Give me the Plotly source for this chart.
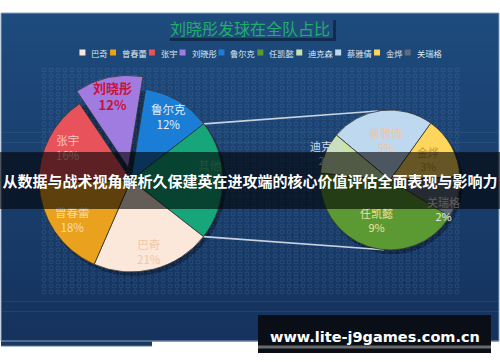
import numpy as np
import plotly.graph_objects as go

# ---------------- data ----------------
TITLE = "刘晓彤发球在全队占比"
BANNER = "从数据与战术视角解析久保建英在进攻端的核心价值评估全面表现与影响力"
WATERMARK = "www.lite-j9games.com.cn"

MAIN_LABELS = ["刘晓彤", "鲁尔克", "其他", "巴奇", "曾春蕾", "张宇"]
MAIN_VALUES = [12, 12, 21, 21, 18, 16]
SEC_LABELS = ["蔡雅倩", "金烨", "关瑞格", "任凯懿", "迪克森"]
SEC_VALUES = [5, 3, 2, 9, 2]
LEGEND_LABELS = ["巴奇", "曾春蕾", "张宇", "刘晓彤", "鲁尔克",
                 "任凯懿", "迪克森", "蔡雅倩", "金烨", "关瑞格"]

# ---------------- style ----------------
COLORS = {
    "巴奇": "#fbe8da", "曾春蕾": "#eaa11e", "张宇": "#e8525a", "刘晓彤": "#a07ce0",
    "鲁尔克": "#1a7ed6", "其他": "#16a67a", "任凯懿": "#5b9a33", "迪克森": "#c9e2aa",
    "蔡雅倩": "#bed8f0", "金烨": "#ffd65c", "关瑞格": "#5f6b7a",
}
TEXT_COLORS = {
    "巴奇": "#f2c6a8", "曾春蕾": "#f7dcb2", "张宇": "#f9c4c0", "刘晓彤": "#cc1038",
    "鲁尔克": "#e6eef8", "其他": "#5cc59c", "任凯懿": "#ebe3a2", "迪克森": "#d0d8e2",
    "蔡雅倩": "#f0c6a0", "金烨": "#c99a3a", "关瑞格": "#e8e8e8",
}
W, H = 500, 362
FONT = "Noto Sans CJK SC"
MAIN_C, MAIN_R, MAIN_ROT, PULL = (131, 180), 92, -34, 0.14
SEC_C, SEC_R, SEC_ROT = (390, 180), 70, -50
MAIN_LABEL_R = [0.8, 0.8, 0.86, 0.8, 0.77, 0.77]
MAIN_LABEL_DA = [0, 0, -6, 0, 0, 0]
SEC_LABEL_R = [0.57, 0.62, 0.86, 0.6, 0.98]
SEC_LABEL_DA = [0, 0, 14, 0, 0]
CONNECT_SEC_ANGLES = (-10, 185)


def slice_angles(values, rot):
    tot = float(sum(values))
    out, a = [], rot
    for v in values:
        b = a + 360.0 * v / tot
        out.append((a, b))
        a = b
    return out


def pt(c, r, ang):
    t = np.deg2rad(ang)
    return c[0] + r * np.sin(t), c[1] - r * np.cos(t)


def domain(c, half):
    return dict(x=[(c[0] - half) / W, (c[0] + half) / W],
                y=[(H - c[1] - half) / H, (H - c[1] + half) / H])


fig = go.Figure()
shapes, annos = [], []

# panel background gradient
top_c, bot_c = np.array([30, 75, 125]), np.array([21, 51, 93])
y_top, y_bot = 13, 341
n = 33
edges = np.linspace(y_top, y_bot, n + 1)
for i in range(n):
    f = i / (n - 1)
    c = (top_c * (1 - f) + bot_c * f).astype(int)
    shapes.append(dict(type="rect", xref="x", yref="y", x0=1, x1=499,
                       y0=edges[i], y1=edges[i + 1] + 0.6, layer="below",
                       line=dict(width=0), fillcolor=f"rgb({c[0]},{c[1]},{c[2]})"))
shapes.append(dict(type="rect", xref="x", yref="y", x0=1, x1=152, y0=340, y1=346,
                   layer="below", line=dict(width=0), fillcolor="#1a3760"))
shapes.append(dict(type="line", xref="x", yref="y", x0=1, x1=152, y0=346, y1=346,
                   layer="below", line=dict(width=1, color="#5a7aa0")))
shapes.append(dict(type="rect", xref="x", yref="y", x0=1, x1=499, y0=13, y1=341,
                   layer="below", line=dict(width=1, color="#8aa3c0")))

# title box
shapes.append(dict(type="rect", xref="x", yref="y", x0=170, x1=336, y0=20, y1=41,
                   layer="below", line=dict(width=0), fillcolor="rgba(5,20,40,0.55)"))
shapes.append(dict(type="rect", xref="x", yref="y", x0=167, x1=333, y0=17, y1=38,
                   layer="below", line=dict(width=0), fillcolor="#1f4a7c"))

# pie shadows
for c, r in ((MAIN_C, MAIN_R), (SEC_C, SEC_R)):
    shapes.append(dict(type="circle", xref="x", yref="y", x0=c[0] - r + 2, x1=c[0] + r + 3,
                       y0=c[1] - r + 3, y1=c[1] + r + 4, layer="below",
                       line=dict(width=0), fillcolor="rgba(5,15,30,0.45)"))

# dot texture
gx, gy = np.meshgrid(np.arange(44, 460, 7), np.arange(70, 293, 6))
fig.add_trace(go.Scatter(x=gx.ravel(), y=gy.ravel(), mode="markers", hoverinfo="skip",
                         marker=dict(symbol="circle-open", size=4,
                                     color="rgba(125,165,215,0.22)", line=dict(width=0.8)),
                         showlegend=False))

# connector lines
main_ang = slice_angles(MAIN_VALUES, MAIN_ROT)
sec_ang = slice_angles(SEC_VALUES, SEC_ROT)
oi = MAIN_LABELS.index("其他")
for a_main, a_sec in ((main_ang[oi][0], CONNECT_SEC_ANGLES[0]),
                      (main_ang[oi][1], CONNECT_SEC_ANGLES[1])):
    p0 = pt(MAIN_C, MAIN_R, a_main)
    p1 = pt(SEC_C, SEC_R, a_sec)
    fig.add_trace(go.Scatter(x=[p0[0], p1[0]], y=[p0[1], p1[1]], mode="lines",
                             line=dict(color="#c9d3e0", width=1.6),
                             hoverinfo="skip", showlegend=False))

# pies
pulls = [PULL if l == "刘晓彤" else 0 for l in MAIN_LABELS]
fig.add_trace(go.Pie(labels=MAIN_LABELS, values=MAIN_VALUES, sort=False,
                     direction="clockwise", rotation=MAIN_ROT, pull=pulls,
                     marker=dict(colors=[COLORS[l] for l in MAIN_LABELS],
                                 line=dict(color="#353535", width=0.8)),
                     textinfo="none", hoverinfo="skip", showlegend=False,
                     domain=domain(MAIN_C, MAIN_R * (1 + PULL))))
fig.add_trace(go.Pie(labels=SEC_LABELS, values=SEC_VALUES, sort=False,
                     direction="clockwise", rotation=SEC_ROT,
                     marker=dict(colors=[COLORS[l] for l in SEC_LABELS],
                                 line=dict(color="#353535", width=0.8)),
                     textinfo="none", hoverinfo="skip", showlegend=False,
                     domain=domain(SEC_C, SEC_R)))

# slice labels
for lab, v, (a0, a1), pl, rr, da in zip(MAIN_LABELS, MAIN_VALUES, main_ang, pulls,
                                         MAIN_LABEL_R, MAIN_LABEL_DA):
    mid = (a0 + a1) / 2
    c = pt(MAIN_C, pl * MAIN_R, mid)
    x, y = pt(c, rr * MAIN_R, mid + da)
    if lab == "刘晓彤":
        txt, fs = f"<b>{lab}<br>{v}%</b>", 13
    else:
        txt, fs = f"{lab}<br>{v}%", 11.5
    annos.append(dict(x=x, y=y, xref="x", yref="y", text=txt, showarrow=False,
                      font=dict(family=FONT, size=fs, color=TEXT_COLORS[lab])))
for lab, v, (a0, a1), rr, da in zip(SEC_LABELS, SEC_VALUES, sec_ang, SEC_LABEL_R, SEC_LABEL_DA):
    mid = (a0 + a1) / 2
    x, y = pt(SEC_C, rr * SEC_R, mid + da)
    annos.append(dict(x=x, y=y, xref="x", yref="y", text=f"{lab}<br>{v}%", showarrow=False,
                      font=dict(family=FONT, size=11, color=TEXT_COLORS[lab])))

# title
annos.append(dict(x=250, y=28, xref="x", yref="y", text=TITLE, showarrow=False,
                  font=dict(family=FONT, size=16, color="#22ad6c")))

# legend
fs_leg, sq, g1, g2 = 8.3, 6, 4, 4
widths = [sq + g1 + fs_leg * len(l) for l in LEGEND_LABELS]
total = sum(widths) + g2 * (len(widths) - 1)
x = 259.5 - total / 2
ly = 52.5
for lab, w in zip(LEGEND_LABELS, widths):
    shapes.append(dict(type="rect", xref="x", yref="y", x0=x, x1=x + sq,
                       y0=ly - sq / 2, y1=ly + sq / 2, layer="below",
                       line=dict(width=0), fillcolor=COLORS[lab]))
    annos.append(dict(x=x + sq + g1, y=ly, xref="x", yref="y", text=lab, showarrow=False,
                      xanchor="left", yanchor="middle",
                      font=dict(family=FONT, size=fs_leg, color="#dfe6ef")))
    x += w + g2

# banner overlay
annos.append(dict(x=250, y=180.5, xref="x", yref="y", text=f"<b>{BANNER}</b>",
                  showarrow=False, width=500, height=57, bgcolor="rgba(0,0,0,0.6)",
                  borderpad=0, borderwidth=0, xanchor="center", yanchor="middle",
                  font=dict(family=FONT, size=15, color="#ffffff")))

# watermark
shapes.append(dict(type="rect", xref="x", yref="y", x0=258, x1=491, y0=315, y1=353,
                   layer="above", line=dict(width=0), fillcolor="#0a0f17"))
shapes.append(dict(type="rect", xref="x", yref="y", x0=258, x1=491, y0=345.5, y1=348.5,
                   layer="above", line=dict(width=0), fillcolor="#6a6a6a"))
annos.append(dict(x=374.5, y=336.5, xref="x", yref="y", text=f"<b>{WATERMARK}</b>",
                  showarrow=False, xanchor="center", yanchor="middle",
                  font=dict(family="DejaVu Sans", size=14.5, color="#ffffff")))

fig.update_layout(
    width=W, height=H, margin=dict(l=0, r=0, t=0, b=0),
    paper_bgcolor="white", plot_bgcolor="white",
    xaxis=dict(range=[0, W], visible=False, fixedrange=True),
    yaxis=dict(range=[H, 0], visible=False, fixedrange=True),
    shapes=shapes, annotations=annos, showlegend=False,
)
fig.write_html("out.html")
